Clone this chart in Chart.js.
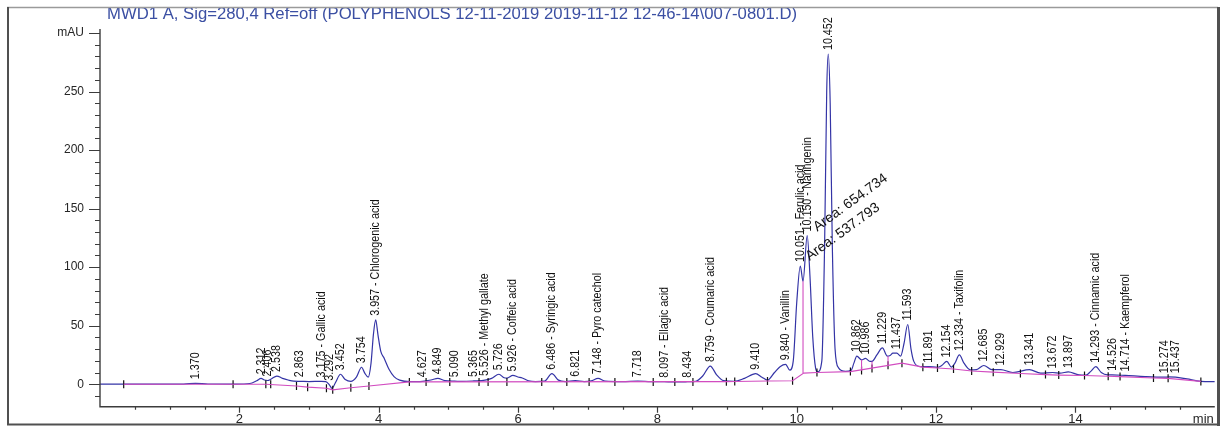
<!DOCTYPE html>
<html>
<head>
<meta charset="utf-8">
<script src="https://cdn.jsdelivr.net/npm/chart.js@4.4.0/dist/chart.umd.min.js"></script>
<style>
  html, body { margin: 0; padding: 0; background: #fff; overflow: hidden; }
  #wrap { width: 1220px; height: 426px; }
</style>
</head>
<body>
<div id="wrap"><canvas id="chrom" width="1220" height="426"></canvas></div>
<script>
// Chromatogram: MWD1 A, 280 nm, polyphenol standards run

const TITLE = 'MWD1 A, Sig=280,4 Ref=off (POLYPHENOLS 12-11-2019 2019-11-12 12-46-14\\007-0801.D)';

// Integrated peaks: retention time (min), compound name, apex height (mAU)
const peakTimes = [1.370, 2.312, 2.406, 2.538, 2.863, 3.175, 3.292, 3.452, 3.754, 3.957,
  4.627, 4.849, 5.090, 5.365, 5.526, 5.726, 5.926, 6.486, 6.821, 7.148,
  7.718, 8.097, 8.434, 8.759, 9.410, 9.840, 10.051, 10.150, 10.452, 10.862,
  10.986, 11.229, 11.437, 11.593, 11.891, 12.154, 12.334, 12.685, 12.929, 13.341,
  13.672, 13.897, 14.293, 14.526, 14.714, 15.274, 15.437];
const peakNames = ['', '', '', '', '', 'Gallic acid', '', '', '', 'Chlorogenic acid',
  '', '', '', '', 'Methyl gallate', '', 'Coffeic acid', 'Syringic acid', '', 'Pyro catechol',
  '', 'Ellagic acid', '', 'Coumaric acid', '', 'Vanillin', 'Ferulic acid', 'Naringenin', '', '',
  '', '', '', '', '', '', 'Taxifolin', '', '', '',
  '', '', 'Cinnamic acid', '', 'Kaempferol', '', ''];
const peakHeights = [0.8, 5, 3.2, 7, 2.5, 2.4, -0.5, 8.5, 14.5, 55,
  2.5, 5, 2.6, 2.8, 3.5, 8.5, 7.5, 9, 3, 5,
  2.6, 2.1, 2.1, 15.5, 9, 17, 101, 127, 282, 24,
  22, 31, 26.5, 51, 15, 19.5, 25, 16, 12.5, 12.5,
  10, 10.5, 15, 8, 7.5, 6, 6];

// Detector trace between the apexes (min, mAU)
const traceTimes = [0.00, 1.20, 1.55, 1.95, 2.15, 2.25, 2.36, 2.45, 2.62, 2.70,
  2.78, 3.00, 3.24, 3.33, 3.38, 3.52, 3.60, 3.68, 3.80, 3.85,
  3.89, 3.925, 3.99, 4.03, 4.08, 4.15, 4.22, 4.30, 4.45, 4.75,
  4.95, 5.20, 5.62, 5.80, 5.84, 6.00, 6.06, 6.15, 6.25, 6.38,
  6.58, 6.68, 6.95, 7.05, 7.25, 7.50, 7.90, 8.30, 8.55, 8.65,
  8.85, 8.95, 9.10, 9.25, 9.50, 9.58, 9.68, 9.76, 9.90, 9.95,
  10.00, 10.09, 10.19, 10.23, 10.27, 10.30, 10.36, 10.40, 10.43, 10.48,
  10.51, 10.55, 10.60, 10.70, 10.78, 10.82, 10.93, 11.05, 11.08, 11.15,
  11.30, 11.34, 11.38, 11.49, 11.54, 11.64, 11.68, 11.77, 12.02, 12.08,
  12.22, 12.27, 12.40, 12.49, 12.58, 12.80, 13.10, 13.50, 13.78, 14.05,
  14.15, 14.22, 14.37, 14.46, 15.00, 15.34, 15.60, 15.80, 16.00];
const traceAbs = [0, 0.1, 0.2, 0.1, 0.6, 3, 3.6, 4.2, 5, 3.6,
  2.6, 2.3, 2.3, -3.5, 1.5, 4, 2.4, 6, 9.5, 6,
  18, 43, 42, 28, 22, 12.5, 6.5, 3.5, 2.2, 3.6,
  3.0, 2.4, 5, 5.5, 5.2, 6.2, 5.3, 3, 2.3, 2.6,
  3.5, 2.3, 2.3, 2.8, 2.6, 2.2, 2.2, 2.0, 2.5, 7,
  8, 3, 2.5, 5, 6, 3.5, 10, 15, 12, 20,
  70, 88, 92, 40, 14, 10.5, 20, 120, 250, 240,
  120, 30, 14, 11, 11.8, 18, 20.8, 19.5, 19.5, 25,
  24, 24.5, 26.5, 24, 35, 30, 19.5, 15.1, 14.5, 16,
  14.6, 18, 18, 12.3, 12.5, 12.5, 10, 9.5, 9.5, 8,
  7.8, 11, 10, 8, 6.5, 6.2, 4.5, 2.5, 2.2];

// Integration baseline (min, mAU)
const baselineTimes = [0.34, 1.91, 2.38, 2.82, 2.98, 3.25, 3.34, 3.60, 3.86, 4.44,
  8.99, 9.11, 9.58, 9.94, 10.10, 10.29, 10.77, 11.51, 11.81, 12.02,
  12.25, 12.51, 12.82, 13.21, 13.57, 13.76, 14.13, 14.47, 14.64, 15.12,
  15.33, 15.80];
const baselineAbs = [0, 0, 0, -1.5, -2.5, -3.5, -4.8, -3, -1.5, 2,
  2.2, 2.3, 2.8, 3, 9.5, 10, 10.8, 18, 14.6, 13.8,
  13, 11.3, 10.3, 9.2, 8.2, 7.8, 7.4, 6.8, 6.5, 5.3,
  5.0, 2.4];

// Peak start / end marks on the baseline (min, mAU)
const markTimes = [0.34, 1.91, 2.38, 2.45, 2.82, 2.98, 3.25, 3.34, 3.60, 3.86,
  4.44, 4.68, 5.02, 5.44, 5.57, 5.84, 6.34, 6.70, 7.02, 7.39,
  7.94, 8.25, 8.51, 8.99, 9.11, 9.58, 9.94, 10.29, 10.77, 10.93,
  11.08, 11.31, 11.51, 11.81, 12.02, 12.25, 12.51, 12.82, 13.21, 13.57,
  13.76, 14.13, 14.47, 14.64, 15.12, 15.33, 15.80];
const markAbs = [0, 0, 0, 0, -1.5, -2.5, -3.5, -4.8, -3, -1.5,
  2, 2, 2, 2, 2, 2, 2, 2, 2, 2,
  2, 2, 2, 2.2, 2.3, 2.8, 3, 10, 10.8, 11.8,
  13.5, 16.2, 18, 14.6, 13.8, 13, 11.3, 10.3, 9.2, 8.2,
  7.8, 7.4, 6.8, 6.5, 5.3, 5.0, 2.4];

// Perpendicular drops between fused peaks (min, signal mAU, baseline mAU)
const dropTimes = [10.09, 10.93, 11.08, 11.31];
const dropTop = [88, 20.8, 19.5, 24];
const dropFoot = [9.5, 11.8, 13.5, 16.2];

// Manual area annotations
const areaNotes = ['Area: 537.793', 'Area: 654.734'];
const areaTimes = [10.15, 10.26];
const areaAbs = [108, 133];

// Axis ticks
const yTickValues = [0, 50, 100, 150, 200, 250, 300];
const yTickLabels = ['0', '50', '100', '150', '200', '250', 'mAU'];
const xTickValues = [2, 4, 6, 8, 10, 12, 14];
const xTickLabels = ['2', '4', '6', '8', '10', '12', '14'];

// Trace table: shape points plus peak apexes, ordered by time
const tracePoints = traceTimes.map((t, i) => ({ x: t, y: traceAbs[i] }))
  .concat(peakTimes.map((t, i) => ({ x: t, y: peakHeights[i] })))
  .sort((a, b) => a.x - b.x);
const baselinePoints = baselineTimes.map((t, i) => ({ x: t, y: baselineAbs[i] }));
const markPoints = markTimes.map((t, i) => ({ x: t, y: markAbs[i] }));
const dropPoints = [];
dropTimes.forEach((t, i) => {
  dropPoints.push({ x: t, y: dropTop[i] }, { x: t, y: dropFoot[i] }, { x: t, y: null });
});

const FONT = "'Liberation Sans', Arial, sans-serif";

// text written along a rotated direction, slightly narrowed along that direction
function rotatedText(ctx, text, x, y, angle, squeeze) {
  ctx.save();
  ctx.translate(x, y);
  ctx.rotate(angle);
  ctx.scale(squeeze, 1);
  ctx.fillText(text, 0, 0);
  ctx.restore();
}

const chromDecor = {
  id: 'chromDecor',
  beforeDraw(chart) {
    const ctx = chart.ctx;
    ctx.save();
    ctx.fillStyle = '#ffffff';
    ctx.fillRect(0, 0, chart.width, chart.height);
    ctx.restore();
  },
  afterDatasetsDraw(chart) {
    const ctx = chart.ctx;
    const xs = chart.scales.x, ys = chart.scales.y, ca = chart.chartArea;
    ctx.save();

    // axes
    ctx.strokeStyle = '#3c3c3c';
    ctx.lineWidth = 1.4;
    ctx.beginPath();
    ctx.moveTo(ca.left, ys.getPixelForValue(300) - 4);
    ctx.lineTo(ca.left, ca.bottom);
    ctx.lineTo(ca.right, ca.bottom);
    ctx.stroke();

    ctx.lineWidth = 1.2;
    ctx.beginPath();
    for (let v = -10; v <= 300; v += 10) {
      const y = Math.round(ys.getPixelForValue(v)) + 0.5;
      const len = v % 50 === 0 ? 11 : 5;
      ctx.moveTo(ca.left - len, y);
      ctx.lineTo(ca.left, y);
    }
    for (let t = 0.5; t < 16; t += 0.5) {
      const x = Math.round(xs.getPixelForValue(t)) + 0.5;
      const len = t % 2 === 0 ? 6 : 3;
      ctx.moveTo(x, ca.bottom);
      ctx.lineTo(x, ca.bottom + len);
    }
    ctx.stroke();

    ctx.fillStyle = '#262626';
    ctx.font = '12px ' + FONT;
    ctx.textAlign = 'right';
    ctx.textBaseline = 'middle';
    yTickValues.forEach((v, i) => {
      ctx.fillText(yTickLabels[i], ca.left - 16, ys.getPixelForValue(v));
    });

    ctx.save();
    ctx.beginPath();
    ctx.rect(0, 0, chart.width, 423);
    ctx.clip();
    ctx.font = '13px ' + FONT;
    ctx.textAlign = 'center';
    ctx.textBaseline = 'top';
    xTickValues.forEach((t, i) => {
      ctx.fillText(xTickLabels[i], xs.getPixelForValue(t), ca.bottom + 6);
    });
    ctx.textAlign = 'right';
    ctx.fillText('min', ca.right - 1, ca.bottom + 6);
    ctx.restore();

    // peak labels, written upwards from just above each apex
    ctx.fillStyle = '#111111';
    ctx.font = '12.5px ' + FONT;
    ctx.textAlign = 'left';
    ctx.textBaseline = 'middle';
    peakTimes.forEach((t, i) => {
      const text = t.toFixed(3) + (peakNames[i] ? ' - ' + peakNames[i] : '');
      rotatedText(ctx, text, xs.getPixelForValue(t), ys.getPixelForValue(peakHeights[i]) - 4,
        -Math.PI / 2, 0.86);
    });
    ctx.font = '14px ' + FONT;
    areaNotes.forEach((s, i) => {
      rotatedText(ctx, s, xs.getPixelForValue(areaTimes[i]), ys.getPixelForValue(areaAbs[i]),
        -36 * Math.PI / 180, 1);
    });

    // title
    ctx.fillStyle = '#3b4fa3';
    ctx.font = '16px ' + FONT;
    ctx.textAlign = 'left';
    ctx.textBaseline = 'top';
    const w = ctx.measureText(TITLE).width;
    ctx.save();
    ctx.translate(107, 7);
    ctx.scale(690 / w, 1);
    ctx.fillText(TITLE, 0, 0);
    ctx.restore();

    // frame
    ctx.strokeStyle = '#9a9a9a';
    ctx.lineWidth = 1.5;
    ctx.beginPath();
    ctx.moveTo(7, 7.5); ctx.lineTo(1218, 7.5);
    ctx.stroke();
    ctx.strokeStyle = '#505050';
    ctx.lineWidth = 2;
    ctx.beginPath();
    ctx.moveTo(8, 7); ctx.lineTo(8, 424.5); ctx.lineTo(1218, 424.5);
    ctx.stroke();
    ctx.lineWidth = 3;
    ctx.beginPath();
    ctx.moveTo(1218.5, 7); ctx.lineTo(1218.5, 426);
    ctx.stroke();

    ctx.restore();
  }
};

new Chart(document.getElementById('chrom'), {
  type: 'scatter',
  data: {
    datasets: [
      {
        label: 'Baseline',
        data: baselinePoints,
        showLine: true,
        borderColor: '#d24cc0',
        borderWidth: 1.1,
        pointRadius: 0,
        tension: 0
      },
      {
        label: 'Drops',
        data: dropPoints,
        showLine: true,
        spanGaps: false,
        borderColor: '#d24cc0',
        borderWidth: 1.1,
        pointRadius: 0,
        tension: 0
      },
      {
        label: 'Marks',
        data: markPoints,
        showLine: false,
        pointStyle: 'line',
        rotation: 90,
        pointRadius: 4,
        borderColor: '#111111',
        borderWidth: 1.2
      },
      {
        label: 'MWD1 A',
        data: tracePoints,
        showLine: true,
        borderColor: '#3434a6',
        borderWidth: 1.2,
        pointRadius: 0,
        cubicInterpolationMode: 'monotone'
      }
    ]
  },
  options: {
    responsive: false,
    animation: false,
    devicePixelRatio: 1,
    layout: { padding: { left: 100, right: 2, top: 33, bottom: 19.3 } },
    scales: {
      x: { type: 'linear', min: 0, max: 16, display: false },
      y: { type: 'linear', min: -19.2, max: 300, display: false }
    },
    plugins: {
      legend: { display: false },
      tooltip: { enabled: false }
    }
  },
  plugins: [chromDecor]
});
</script>
</body>
</html>
